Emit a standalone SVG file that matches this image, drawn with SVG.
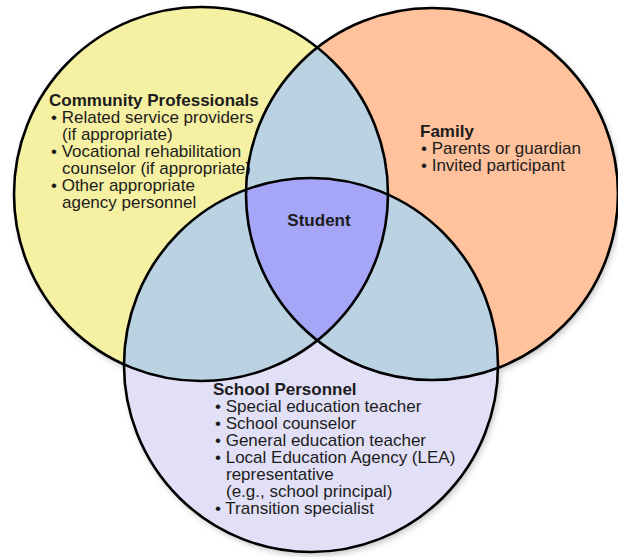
<svg xmlns="http://www.w3.org/2000/svg" width="618" height="557" viewBox="0 0 618 557">
<style>
.t{font-family:"Liberation Sans",Arial,sans-serif;font-size:17px;fill:#1c1c1c}
.b{font-weight:bold}
.ring{fill:none;stroke:#000;stroke-width:2.6}
</style>
<defs>
<clipPath id="cL"><circle cx="201" cy="194" r="187"/></clipPath>
<clipPath id="cR"><circle cx="432" cy="194" r="186"/></clipPath>
<clipPath id="cB"><circle cx="311" cy="365" r="187"/></clipPath>
<filter id="sh" x="-10%" y="-10%" width="120%" height="120%"><feDropShadow dx="2" dy="3" stdDeviation="3" flood-color="#000" flood-opacity="0.25"/></filter>
</defs>
<rect width="618" height="557" fill="#fff"/>
<g filter="url(#sh)">
<circle cx="201" cy="194" r="187" fill="#F6F0A2"/>
<circle cx="432" cy="194" r="186" fill="#FFC29C"/>
<circle cx="311" cy="365" r="187" fill="#E2E0F6"/>
</g>
<g fill="#BBD2E3">
<circle cx="432" cy="194" r="186" clip-path="url(#cL)"/>
<circle cx="311" cy="365" r="187" clip-path="url(#cL)"/>
<circle cx="311" cy="365" r="187" clip-path="url(#cR)"/>
</g>
<g clip-path="url(#cL)"><circle cx="311" cy="365" r="187" fill="#A6A6F8" clip-path="url(#cR)"/></g>
<g id="community">
<circle class="ring" cx="201" cy="194" r="187"/>
<text class="t"><tspan class="b" x="49" y="106">Community Professionals</tspan><tspan x="51" y="123">• Related service providers</tspan><tspan x="62" y="140">(if appropriate)</tspan><tspan x="51" y="157">• Vocational rehabilitation</tspan><tspan x="62" y="174">counselor (if appropriate)</tspan><tspan x="51" y="191">• Other appropriate</tspan><tspan x="62" y="208">agency personnel</tspan></text>
</g>
<g id="family">
<circle class="ring" cx="432" cy="194" r="186"/>
<text class="t"><tspan class="b" x="420" y="137">Family</tspan><tspan x="421" y="154">• Parents or guardian</tspan><tspan x="421" y="171">• Invited participant</tspan></text>
</g>
<g id="school">
<circle class="ring" cx="311" cy="365" r="187"/>
<text class="t"><tspan class="b" x="213" y="395">School Personnel</tspan><tspan x="215" y="412">• Special education teacher</tspan><tspan x="215" y="429">• School counselor</tspan><tspan x="215" y="446">• General education teacher</tspan><tspan x="215" y="463">• Local Education Agency (LEA)</tspan><tspan x="226" y="480">representative</tspan><tspan x="226" y="497">(e.g., school principal)</tspan><tspan x="215" y="514">• Transition specialist</tspan></text>
</g>
<g id="student">
<text class="t b" x="319" y="226" text-anchor="middle">Student</text>
</g>
</svg>
